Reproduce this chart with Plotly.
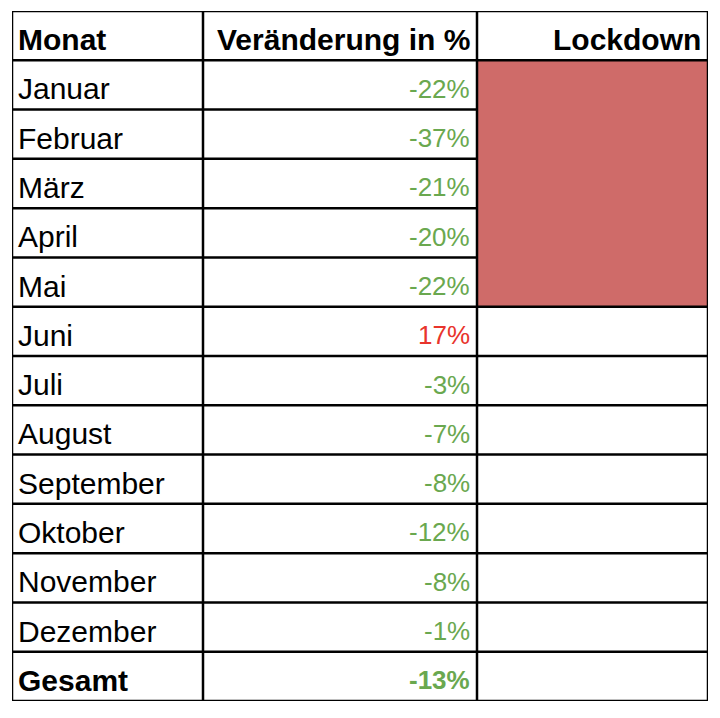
import plotly.graph_objects as go

headers = ["Monat", "Veränderung in %", "Lockdown"]
months = ["Januar", "Februar", "März", "April", "Mai", "Juni", "Juli",
          "August", "September", "Oktober", "November", "Dezember"]
changes = [-22, -37, -21, -20, -22, 17, -3, -7, -8, -12, -8, -1]
lockdown = [1, 1, 1, 1, 1, 0, 0, 0, 0, 0, 0, 0]
total_label = "Gesamt"
total_change = -13

# column edges in pixel-ish units
col_edges = [0, 191, 465, 696]
n_rows = len(months) + 2

GREEN = "#6aa84f"
RED = "#e8342c"
FILL = "#cf6b69"
FONT = "Liberation Sans, Arial, sans-serif"
LW = 2.5

fig = go.Figure()
shapes = []

# lockdown fill: one merged block over the lockdown months
lock_rows = [i + 1 for i, v in enumerate(lockdown) if v]
if lock_rows:
    shapes.append(dict(type="rect", xref="x", yref="y",
                       x0=col_edges[2], x1=col_edges[3],
                       y0=min(lock_rows), y1=max(lock_rows) + 1,
                       fillcolor=FILL, line=dict(width=0), layer="below"))

# horizontal lines, no lines inside the merged lockdown block
for r in range(n_rows + 1):
    inside = bool(lock_rows) and min(lock_rows) < r <= max(lock_rows)
    x1 = col_edges[2] if inside else col_edges[3]
    shapes.append(dict(type="line", xref="x", yref="y", x0=col_edges[0], x1=x1,
                       y0=r, y1=r, line=dict(color="black", width=LW)))
for x in col_edges:
    shapes.append(dict(type="line", xref="x", yref="y", x0=x, x1=x,
                       y0=0, y1=n_rows, line=dict(color="black", width=LW)))

annotations = []
ty = 0.58
pad_l, pad_r = 4, 5
annotations.append(dict(x=col_edges[0] + pad_l, y=ty, text="<b>%s</b>" % headers[0],
                        xanchor="left"))
annotations.append(dict(x=col_edges[2] - pad_r, y=ty, text="<b>%s</b>" % headers[1],
                        xanchor="right"))
annotations.append(dict(x=col_edges[3] - pad_r, y=ty, text="<b>%s</b>" % headers[2],
                        xanchor="right"))
for i, (m, c) in enumerate(zip(months, changes)):
    y = i + 1 + ty
    annotations.append(dict(x=col_edges[0] + pad_l, y=y, text=m, xanchor="left"))
    annotations.append(dict(x=col_edges[2] - pad_r, y=y, text="%d%%" % c, xanchor="right",
                            font=dict(size=26, color=GREEN if c < 0 else RED,
                                      family=FONT)))
y = n_rows - 1 + ty
annotations.append(dict(x=col_edges[0] + pad_l, y=y, text="<b>%s</b>" % total_label,
                        xanchor="left"))
annotations.append(dict(x=col_edges[2] - pad_r, y=y, text="<b>%d%%</b>" % total_change,
                        xanchor="right",
                        font=dict(size=26, color=GREEN if total_change < 0 else RED,
                                  family=FONT)))
for a in annotations:
    a.update(xref="x", yref="y", yanchor="middle", showarrow=False)
    a.setdefault("font", dict(size=30, color="black", family=FONT))

fig.add_trace(go.Scatter(x=[col_edges[0], col_edges[3]], y=[0, n_rows], mode="markers",
                         marker=dict(opacity=0), hoverinfo="skip", showlegend=False))

# the page body has an 8px margin, so the figure is sized to fit inside it
fig.update_layout(
    width=704, height=702,
    margin=dict(l=4, r=4, t=3, b=9),
    plot_bgcolor="white", paper_bgcolor="white",
    shapes=shapes, annotations=annotations,
    xaxis=dict(range=[col_edges[0], col_edges[3]], visible=False, fixedrange=True),
    yaxis=dict(range=[n_rows, 0], visible=False, fixedrange=True),
)
fig.write_html("out.html")
